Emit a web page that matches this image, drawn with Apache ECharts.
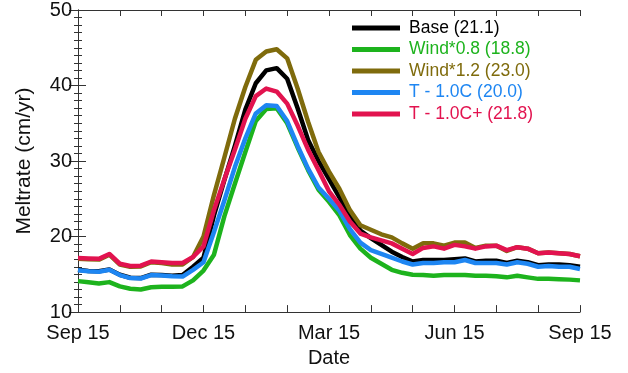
<!DOCTYPE html>
<html>
<head>
<meta charset="utf-8">
<script src="https://cdn.jsdelivr.net/npm/echarts@6/dist/echarts.min.js"></script>
<style>html,body{margin:0;padding:0;background:#fff}#c{width:628px;height:373px}</style>
</head>
<body>
<div id="c"></div>
<script>
// x positions in months after Sep 15 (0..12, step 0.25)
const months = [];
for (let k = 0; k <= 48; k++) months.push(k * 0.25);
const tickLabels = {0: 'Sep 15', 3: 'Dec 15', 6: 'Mar 15', 9: 'Jun 15', 12: 'Sep 15'};
const seriesNames = ['Base (21.1)', 'Wind*0.8 (18.8)', 'Wind*1.2 (23.0)', 'T - 1.0C (20.0)', 'T - 1.0C+ (21.8)'];
const seriesColors = ['#000000', '#1db31d', '#7f6b0c', '#1e86f2', '#e2134f'];

const base = [15.6,15.45,15.4,15.65,14.95,14.55,14.5,14.95,14.9,14.8,14.9,16.0,17.2,
  22.8,27.5,32.0,36.8,40.3,42.0,42.3,40.9,37.0,32.8,30.0,27.6,25.2,22.8,20.8,19.8,18.9,18.0,17.3,16.7,
  16.9,16.9,16.9,17.0,17.1,16.7,16.8,16.8,16.5,16.8,16.6,16.2,16.3,16.3,16.2,16.0];
const wind08 = [14.1,13.95,13.8,13.97,13.4,13.1,13.0,13.3,13.35,13.35,13.4,14.2,15.5,
  17.6,22.7,27.0,31.2,35.3,36.9,37.0,35.0,31.8,28.8,26.2,24.6,22.8,20.2,18.4,17.2,16.4,15.6,15.2,14.95,
  14.9,14.8,14.9,14.9,14.9,14.8,14.8,14.75,14.6,14.8,14.6,14.4,14.4,14.35,14.3,14.2];
const wind12 = [17.05,17.0,16.95,17.6,16.3,16.0,16.05,16.6,16.5,16.3,16.3,17.3,20.0,
  25.5,30.5,35.6,39.8,43.4,44.5,44.8,43.6,39.6,35.2,31.2,28.6,26.3,23.5,21.5,20.9,20.3,19.9,19.1,18.4,
  19.1,19.1,18.8,19.2,19.2,18.5,18.8,18.8,18.1,18.6,18.4,17.8,17.9,17.8,17.7,17.4];
const tMinus = [15.55,15.4,15.35,15.6,14.9,14.5,14.45,14.9,14.85,14.75,14.7,15.6,16.6,
  20.6,24.8,29.2,33.0,36.3,37.4,37.3,35.3,32.0,29.0,26.5,25.0,23.4,21.0,19.2,18.2,17.7,17.2,16.7,16.3,
  16.5,16.5,16.6,16.6,16.9,16.5,16.5,16.5,16.3,16.6,16.4,16.0,16.1,16.0,16.0,15.7];
const tMinusPlus = [17.15,17.1,17.05,17.7,16.4,16.1,16.15,16.7,16.6,16.5,16.5,17.3,18.7,
  23.5,27.6,31.5,35.6,38.6,39.6,39.2,37.6,34.7,31.5,28.8,26.0,24.2,22.0,20.4,19.9,19.5,19.1,18.4,17.7,
  18.5,18.7,18.4,18.9,18.7,18.4,18.7,18.8,18.2,18.6,18.4,17.8,17.9,17.8,17.7,17.4];
const allValues = [base, wind08, wind12, tMinus, tMinusPlus];

const FONT = '"Liberation Sans", Arial, Helvetica, sans-serif';
const axisCol = '#333';

const chart = echarts.init(document.getElementById('c'), null, {renderer: 'canvas'});
const series = allValues.map((vals, i) => ({
  name: seriesNames[i],
  type: 'line',
  xAxisIndex: 0, yAxisIndex: 0,
  data: vals.map((v, k) => [months[k], v]),
  showSymbol: false,
  symbol: 'none',
  lineStyle: {width: 4.5, color: seriesColors[i], join: 'round'},
  itemStyle: {color: seriesColors[i]},
  z: 2 + i,
  animation: false
}));

const tickCommon = {show: true, inside: true, lineStyle: {color: axisCol, width: 1}};
chart.setOption({
  animation: false,
  backgroundColor: '#fff',
  grid: {left: 78, right: 48, top: 10, bottom: 56.5, containLabel: false},
  legend: {
    orient: 'vertical',
    left: 347, top: 14,
    itemWidth: 48, itemHeight: 5, itemGap: 3.5,
    icon: 'rect',
    textStyle: {fontFamily: FONT, fontSize: 17.5, lineHeight: 18, padding: [0, 0, 0, 4]},
    data: seriesNames.map((n, i) => ({name: n, textStyle: {color: seriesColors[i]}}))
  },
  xAxis: [
    {type: 'value', min: 0, max: 12, interval: 1, position: 'bottom',
     axisLine: {show: true, lineStyle: {color: axisCol, width: 1}},
     axisTick: Object.assign({length: 7}, tickCommon),
     splitLine: {show: false},
     axisLabel: {fontFamily: FONT, fontSize: 20, color: '#111', margin: 11,
       formatter: v => (tickLabels[v] !== undefined ? tickLabels[v] : '')},
     name: 'Date', nameLocation: 'middle', nameGap: 33,
     nameTextStyle: {fontFamily: FONT, fontSize: 20, color: '#111'}},
    {type: 'value', min: 0, max: 12, interval: 1, position: 'top',
     axisLine: {show: true, lineStyle: {color: axisCol, width: 1}},
     axisTick: Object.assign({length: 6}, tickCommon),
     splitLine: {show: false}, axisLabel: {show: false}}
  ],
  yAxis: [
    {type: 'value', min: 10, max: 50, interval: 10, position: 'left',
     axisLine: {show: true, lineStyle: {color: axisCol, width: 1}},
     axisTick: Object.assign({length: 8}, tickCommon),
     minorTick: {show: true, splitNumber: 10, length: 4, lineStyle: {color: axisCol, width: 1}},
     splitLine: {show: false}, minorSplitLine: {show: false},
     axisLabel: {fontFamily: FONT, fontSize: 20, color: '#111', margin: 6},
     name: 'Meltrate (cm/yr)', nameLocation: 'middle', nameRotate: 90, nameGap: 43,
     nameTextStyle: {fontFamily: FONT, fontSize: 21, color: '#111'}},
    {type: 'value', min: 10, max: 50, interval: 10, position: 'right',
     axisLine: {show: true, lineStyle: {color: axisCol, width: 1}},
     axisTick: Object.assign({length: 9}, tickCommon),
     minorTick: {show: true, splitNumber: 10, length: 4, lineStyle: {color: axisCol, width: 1}},
     splitLine: {show: false}, minorSplitLine: {show: false},
     axisLabel: {show: false}}
  ],
  series: series
});
</script>
</body>
</html>
